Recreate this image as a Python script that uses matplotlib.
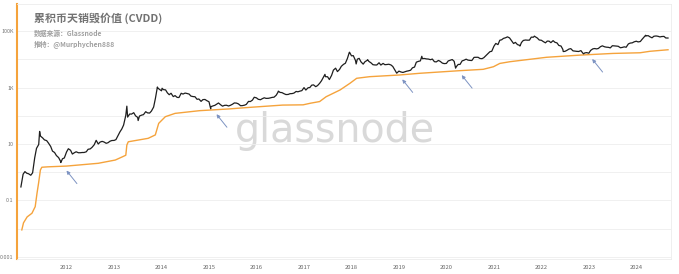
# 累积币天销毁价值 (CVDD) vs BTC 价格
import matplotlib.dates as mdates
import matplotlib.pyplot as plt
import matplotlib.ticker as mticker
import numpy as np
import pandas as pd

plt.rcParams["font.family"] = ["Noto Sans CJK SC", "DejaVu Sans"]

# BTC 价格（每月 1 日 / 15 日读数）
price_2011 = [0.30, 0.85, 1.05, 0.92, 0.88, 0.78, 0.95, 3.2, 7.0, 9.6, 19.0, 16.5,
              14.0, 13.2, 10.8, 8.2, 5.6, 5.0, 3.9, 3.3, 2.5, 3.0, 3.2]
price_2012 = [5.2, 6.8, 6.0, 4.4, 4.9, 5.3, 4.9, 4.9, 5.0, 5.0, 5.3, 6.5, 6.7, 7.6,
              9.4, 13.0, 10.0, 11.7, 12.4, 11.8, 10.6, 11.1, 12.6, 13.3]
price_2013 = [13.4, 14.3, 20.4, 27.0, 34.0, 47.0, 104, 90, 116, 115, 129, 100, 88, 98,
              106, 110, 140, 127, 125, 147, 204, 420, 1000, 870]
price_2014 = [770, 850, 830, 650, 560, 630, 480, 520, 450, 445, 630, 590, 640, 620,
              590, 500, 480, 475, 385, 395, 325, 375, 380, 345]
price_2015 = [315, 210, 225, 235, 260, 285, 245, 220, 235, 237, 223, 236, 258, 286,
              282, 265, 228, 230, 238, 254, 325, 320, 360, 455]
price_2016 = [433, 385, 372, 405, 435, 415, 417, 430, 450, 457, 537, 690, 675, 665,
              605, 567, 572, 608, 614, 638, 730, 711, 752, 780]
price_2017 = [998, 820, 985, 1010, 1220, 1250, 1080, 1180, 1420, 1740, 2400, 2440,
              2430, 1930, 2720, 4170, 4890, 3700, 4400, 5700, 6700, 7300, 10900, 17600]
price_2018 = [13400, 13600, 9100, 10200, 10900, 8200, 6800, 8300, 9200, 8500, 7500,
              6500, 6350, 6350, 7600, 6300, 7200, 6500, 6600, 6750, 6350, 5600, 4200, 3250]
price_2019 = [3850, 3600, 3450, 3620, 3820, 3930, 4140, 5030, 5350, 7990, 8550, 8860,
              10600, 10800, 10400, 10300, 9770, 10300, 8300, 8150, 9200, 8500, 7400, 7100]
price_2020 = [7200, 8820, 9390, 9900, 8550, 5360, 6640, 6640, 8860, 9310, 10200, 9450,
              9230, 9130, 11800, 11900, 11900, 10800, 10600, 11500, 13750, 15960, 18800, 19400]
price_2021 = [29400, 36800, 33500, 47900, 49600, 55600, 58700, 63100, 57800, 46700,
              36600, 40200, 33500, 31800, 39900, 47100, 48800, 48100, 48200, 61600,
              61300, 63600, 57200, 48900]
price_2022 = [47700, 43100, 38700, 44600, 44400, 39300, 46300, 40500, 38500, 31300,
              29800, 22600, 19300, 20800, 23300, 24100, 20100, 19700, 19300, 19100,
              20500, 16900, 17000, 17400]
price_2023 = [16600, 20900, 23700, 24300, 23600, 24400, 28400, 30300, 28100, 27200,
              26800, 25600, 30600, 30300, 29700, 29200, 25900, 26600, 27900, 27000,
              35400, 37900, 38700, 41900]
price_2024 = [44200, 41700, 43100, 51900, 62400, 67900, 69700, 63400, 58300, 66200,
              67800, 66200, 62700, 64800, 65400, 57500, 57300]

# 高低点
peak_dates = ["2011-06-08", "2011-11-18", "2012-08-16", "2013-04-09", "2013-07-05",
              "2013-11-30", "2014-01-05", "2015-01-14", "2016-06-17", "2017-06-11",
              "2017-12-17", "2018-02-06", "2018-05-05", "2019-06-26", "2020-03-12",
              "2021-04-13", "2021-07-20", "2021-11-08", "2022-06-18", "2022-11-21",
              "2024-03-13"]
peak_values = [28, 2.2, 13.5, 220, 68, 1050, 950, 178, 750, 2950, 18000, 6900, 9800,
               12900, 4900, 63000, 29800, 67000, 19000, 15800, 72000]

# CVDD
cvdd_dates = ["2011-01-22", "2011-02-04", "2011-03-04", "2011-04-10", "2011-05-05",
              "2011-05-19", "2011-05-31", "2011-06-14", "2011-06-25", "2011-08-10",
              "2012-01-01", "2012-09-01", "2013-01-10", "2013-03-05", "2013-04-01",
              "2013-04-09", "2013-04-20", "2013-09-20", "2013-11-14", "2013-12-10",
              "2014-01-30", "2014-04-15", "2014-10-20", "2015-06-01", "2015-11-15",
              "2016-07-20", "2016-12-25", "2017-02-20", "2017-05-01", "2017-06-20",
              "2017-10-05", "2017-12-20", "2018-02-10", "2018-05-20", "2019-01-05",
              "2019-06-10", "2020-04-10", "2020-10-10", "2020-12-28", "2021-02-15",
              "2021-05-05", "2022-02-10", "2022-10-25", "2023-07-05", "2024-01-30",
              "2024-04-15", "2024-09-01"]
cvdd_values = [0.009, 0.016, 0.026, 0.035, 0.06, 0.18, 0.41, 1.2, 1.5, 1.55, 1.65,
               2.07, 2.7, 3.5, 4.0, 9.2, 12, 15.9, 21, 54, 93, 122, 152, 175, 200,
               240, 245, 280, 320, 475, 825, 1420, 2140, 2440, 2800, 3220, 3980, 4450,
               5500, 7200, 8300, 11900, 14200, 16300, 17200, 19400, 22000]

arrow_dates = ["2011-12-05", "2015-02-01", "2018-12-31", "2020-04-01", "2022-12-31"]

ytick_labels = {5: "100K", 3: "1K", 1: "10", -1: "0.1", -3: "0.001"}
years = list(range(2012, 2025))

blocks = [("2011-01-15", price_2011), ("2012-01-01", price_2012), ("2013-01-01", price_2013),
          ("2014-01-01", price_2014), ("2015-01-01", price_2015), ("2016-01-01", price_2016),
          ("2017-01-01", price_2017), ("2018-01-01", price_2018), ("2019-01-01", price_2019),
          ("2020-01-01", price_2020), ("2021-01-01", price_2021), ("2022-01-01", price_2022),
          ("2023-01-01", price_2023), ("2024-01-01", price_2024)]
parts = [pd.Series(v, index=pd.date_range(s, periods=len(v), freq="SMS")) for s, v in blocks]
parts.append(pd.Series(peak_values, index=pd.to_datetime(peak_dates)))
price = pd.concat(parts).sort_index()
cvdd = pd.Series(cvdd_values, index=pd.to_datetime(cvdd_dates))

ORANGE = "#f5a33c"

fig = plt.figure(figsize=(6.79, 2.74), dpi=100)
ax = fig.add_axes([17 / 679, 15 / 274, 654 / 679, 255 / 274])

ax.plot(price.index, price.values, color="#1e1e1e", lw=0.9, zorder=3)
ax.plot(cvdd.index, cvdd.values, color=ORANGE, lw=1.0, zorder=2)

ax.set_yscale("log")
ax.set_ylim(10 ** -3.078, 10 ** 5.965)
ax.set_xlim(pd.Timestamp("2010-12-16"), pd.Timestamp("2024-09-24"))

ax.set_yticks([10.0 ** k for k in range(-3, 6)])
ax.set_yticklabels([ytick_labels.get(k, "") for k in range(-3, 6)])
ax.yaxis.set_minor_locator(mticker.NullLocator())
ax.set_xticks([pd.Timestamp(f"{y}-01-01") for y in years])
ax.set_xticklabels([str(y) for y in years])
ax.tick_params(axis="y", length=0, pad=2.5, labelsize=3.9, labelcolor="#777777")
ax.tick_params(axis="x", length=0, pad=4, labelsize=4.2, labelcolor="#666666")
ax.grid(axis="y", color="#eeeeee", lw=0.6, zorder=0)

ax.spines["left"].set_color(ORANGE)
ax.spines["left"].set_linewidth(1.5)
for s in ["top", "right", "bottom"]:
    ax.spines[s].set_color("#ececec")
    ax.spines[s].set_linewidth(0.6)

# 水印
ax.text(0.486, 0.459, "glassnode", transform=ax.transAxes, ha="center", va="baseline",
        fontsize=28.5, color="#d9d9d9", family="DejaVu Sans", zorder=1)

# 箭头：价格触及 CVDD 的位置
cvdd_num = mdates.date2num(cvdd.index)
for d in pd.to_datetime(arrow_dates):
    v = 10 ** np.interp(mdates.date2num(d), cvdd_num, np.log10(cvdd.values))
    ax.annotate("", xy=(d, v), xytext=(10, -12.5), textcoords="offset points",
                arrowprops=dict(arrowstyle="-|>", color="#7d93c2", lw=0.7,
                                mutation_scale=5, shrinkA=0, shrinkB=4), zorder=4)

fig.text(34 / 679, 1 - 18 / 274, "累积币天销毁价值 (CVDD)", ha="left", va="center",
         fontsize=7.9, fontweight="bold", color="#727272")
fig.text(34 / 679, 1 - 33 / 274, "数据来源：Glassnode", ha="left", va="center",
         fontsize=4.9, fontweight="bold", color="#a0a0a0")
fig.text(34 / 679, 1 - 44.5 / 274, "推特：@Murphychen888", ha="left", va="center",
         fontsize=4.9, fontweight="bold", color="#a0a0a0")

fig.savefig("out.png", dpi=100)
